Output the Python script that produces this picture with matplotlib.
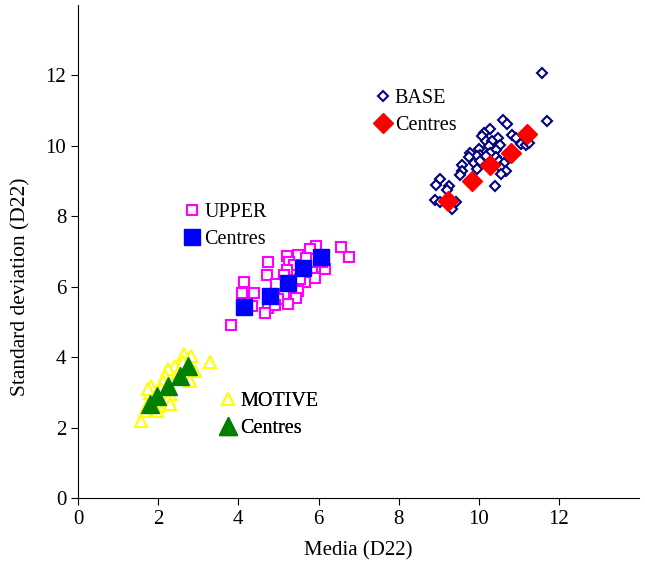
import matplotlib.pyplot as plt
from matplotlib.lines import Line2D

plt.rcParams["font.family"] = ["Liberation Serif", "DejaVu Serif"]

# BASE cluster (hollow navy diamonds) and its centres
base_x = [11.58, 11.69, 10.61, 10.71, 10.28, 10.13, 10.08, 10.48, 10.83, 10.92,
          11.04, 11.17, 10.17, 10.33, 10.53, 10.25, 10.00, 10.42, 10.29, 10.04,
          9.79, 9.96, 10.17, 9.75, 10.42, 10.50, 9.57, 9.88, 10.04, 10.63,
          9.58, 9.96, 10.54, 10.67, 10.54, 9.54, 10.40, 9.02, 8.92, 9.25,
          9.21, 8.90, 9.02, 9.42, 9.33, 11.25]
base_y = [12.07, 10.72, 10.74, 10.61, 10.49, 10.37, 10.28, 10.23, 10.32, 10.23,
          10.06, 10.02, 10.13, 10.15, 10.04, 9.99, 9.92, 9.89, 9.80, 9.75,
          9.80, 9.71, 9.71, 9.68, 9.68, 9.56, 9.45, 9.51, 9.56, 9.51,
          9.28, 9.34, 9.37, 9.29, 9.20, 9.16, 8.87, 9.07, 8.88, 8.87,
          8.75, 8.47, 8.42, 8.42, 8.21, 10.07]
base_cx = [9.23, 9.83, 10.28, 10.80, 11.21]
base_cy = [8.44, 9.01, 9.45, 9.80, 10.34]

# UPPER cluster (hollow magenta squares) and its centres
upper_x = [5.93, 5.79, 6.57, 6.77, 5.21, 5.48, 5.68, 4.73, 5.27, 5.38,
           6.00, 6.15, 5.21, 5.83, 5.92, 4.71, 5.13, 5.67, 4.13, 4.93,
           5.50, 4.10, 4.38, 5.13, 5.43, 5.25, 4.33, 4.73, 4.67, 3.82,
           5.00, 4.92, 5.54, 6.08]
upper_y = [7.16, 7.07, 7.13, 6.85, 6.88, 6.90, 6.82, 6.70, 6.70, 6.61,
           6.56, 6.51, 6.49, 6.42, 6.25, 6.34, 6.32, 6.13, 6.13, 6.09,
           5.89, 5.83, 5.83, 5.75, 5.69, 5.51, 5.45, 5.39, 5.26, 4.91,
           5.66, 5.47, 6.23, 6.70]
upper_cx = [4.13, 4.79, 5.23, 5.61, 6.06]
upper_cy = [5.42, 5.73, 6.11, 6.54, 6.85]

# MOTIVE cluster (hollow yellow triangles) and its centres
motive_x = [3.29, 2.65, 2.83, 2.92, 2.63, 2.42, 2.25, 2.17, 2.79, 2.13,
            2.08, 1.83, 1.79, 2.29, 2.25, 2.29, 2.00, 1.71, 1.67, 1.58,
            1.96, 2.50, 1.75]
motive_y = [3.85, 4.09, 4.04, 3.61, 3.85, 3.75, 3.66, 3.47, 3.32, 3.32,
            3.09, 3.18, 2.99, 2.94, 2.80, 2.66, 2.61, 2.61, 2.47, 2.18,
            2.47, 3.56, 3.09]
motive_cx = [1.79, 1.96, 2.25, 2.54, 2.75]
motive_cy = [2.66, 2.89, 3.18, 3.47, 3.75]


def main() -> None:
    fig = plt.figure(figsize=(6.45, 5.64), dpi=100)
    ax = fig.add_axes([0.121, 0.117, 0.870, 0.874])

    base_pts = dict(ls="none", marker="D", ms=5, mfc="white", mec="#000080", mew=1.5)
    base_ctr = dict(ls="none", marker="D", ms=10, mfc="red", mec="red")
    upper_pts = dict(ls="none", marker="s", ms=7, mfc="white", mec="#ff00ff", mew=1.5)
    upper_ctr = dict(ls="none", marker="s", ms=11, mfc="blue", mec="blue")
    motive_pts = dict(ls="none", marker="^", ms=8, mfc="white", mec="#ffff00", mew=1.5)
    motive_ctr = dict(ls="none", marker="^", ms=13, mfc="green", mec="green")

    ax.plot(base_x, base_y, **base_pts)
    ax.plot(upper_x, upper_y, **upper_pts)
    ax.plot(motive_x, motive_y, **motive_pts)
    ax.plot(base_cx, base_cy, **base_ctr)
    ax.plot(upper_cx, upper_cy, **upper_ctr)
    ax.plot(motive_cx, motive_cy, **motive_ctr)

    ax.set_xlim(0, 14)
    ax.set_ylim(0, 14)
    ax.set_xticks(range(0, 14, 2))
    ax.set_yticks(range(0, 14, 2))
    ax.spines["top"].set_visible(False)
    ax.spines["right"].set_visible(False)
    ax.tick_params(direction="out", length=5, labelsize=15)
    ax.set_xlabel("Media (D22)", fontsize=15, labelpad=9)
    ax.set_ylabel("Standard deviation (D22)", fontsize=15.5)
    ax.yaxis.set_label_coords(-0.085, 0.428)

    groups = [
        (base_pts, base_ctr, "BASE", (7.2, 11.9)),
        (upper_pts, upper_ctr, "UPPER", (2.45, 8.68)),
        (motive_pts, motive_ctr, "MOTIVE", (3.35, 3.3)),
    ]
    for pts, ctr, name, anchor in groups:
        handles = [Line2D([], [], **pts), Line2D([], [], **ctr)]
        leg = ax.legend(handles, [name, "Centres"], loc="upper left",
                        bbox_to_anchor=anchor, bbox_transform=ax.transData,
                        frameon=False, fontsize=14.5, handlelength=0.6,
                        handletextpad=0.3, labelspacing=0.4, borderpad=0,
                        numpoints=1)
        ax.add_artist(leg)

    fig.savefig("out.png", dpi=100)


if __name__ == "__main__":
    main()
